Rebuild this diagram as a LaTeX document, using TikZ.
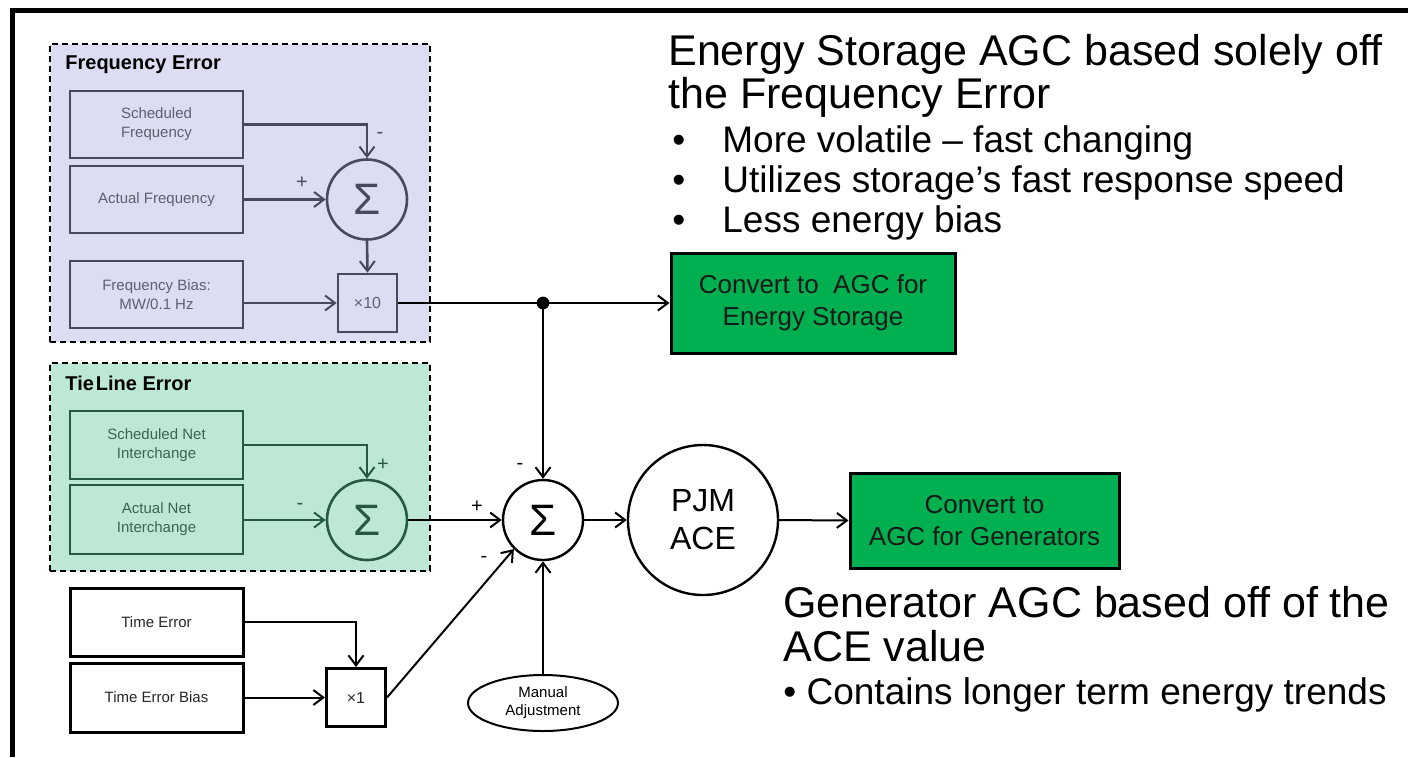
\documentclass[tikz,border=0pt]{standalone}
\usepackage{fontspec}
\setmainfont{Liberation Sans}
\usetikzlibrary{arrows.meta,shapes.geometric,calc}
\definecolor{lav}{RGB}{220,220,242}
\definecolor{mint}{RGB}{190,232,214}
\definecolor{fedge}{RGB}{72,74,92}
\definecolor{ftext}{RGB}{95,95,110}
\definecolor{tedge}{RGB}{38,88,66}
\definecolor{ttext}{RGB}{60,100,82}
\definecolor{agc}{RGB}{0,176,80}
\tikzset{
  grp/.style={draw=black, dash pattern=on 3pt off 2pt, line width=0.9pt, inner sep=0pt},
  grptitle/.style={anchor=west, inner sep=0pt, font=\fontsize{10}{12}\selectfont\bfseries},
  inbox/.style={draw, line width=1.3pt, minimum width=86.5pt, align=center, inner sep=1pt, font=\fontsize{7.5}{9.5}\selectfont},
  febox/.style={inbox, draw=fedge, text=ftext, fill=lav},
  tiebox/.style={inbox, draw=tedge, text=ttext, fill=mint},
  timebox/.style={inbox, draw=black, text=black!85, fill=white, line width=1.5pt},
  sumf/.style={circle, draw=fedge, fill=lav, line width=1.3pt, minimum size=40pt, inner sep=0pt, text=fedge, font=\fontsize{22}{22}\selectfont},
  sumt/.style={sumf, draw=tedge, fill=mint, text=tedge},
  summ/.style={sumf, draw=black, fill=white, text=black, line width=1.2pt},
  gain/.style={draw, line width=1.3pt, minimum width=29.5pt, minimum height=29pt, inner sep=0pt, font=\fontsize{8}{9}\selectfont},
  agcbox/.style={draw=black, fill=agc, line width=1.5pt, align=center, text=black!90, font=\fontsize{13}{16}\selectfont},
  arr/.style={line width=1pt, -{Straight Barb[length=5pt,width=7.5pt,line width=1pt]}},
  sign/.style={inner sep=0pt, font=\fontsize{10}{10}\selectfont},
  big/.style={anchor=base west, inner sep=0pt, font=\fontsize{21.5}{24}\selectfont},
  bul/.style={anchor=base west, inner sep=0pt, font=\fontsize{18.5}{22}\selectfont},
}
\begin{document}
\begin{tikzpicture}[x=0.5pt, y=-0.5pt]
\useasboundingbox (0,0) rectangle (1408,757);
\draw[line width=2.5pt, line join=miter] (12.5,757) -- (12.5,10) -- (1408,10);

% Frequency Error group
\node[grp, fill=lav, minimum width=190pt, minimum height=149pt] (fe) at (240,193) {};
\node[grptitle] (fet) at (65,65) {Frequency Error};
\node[febox, minimum height=33.5pt] (sf) at (156.5,124.5) {Scheduled\\Frequency};
\node[febox, minimum height=33.5pt] (af) at (156.5,199.5) {Actual Frequency};
\node[febox, minimum height=33.5pt] (fb) at (156.5,294.5) {Frequency Bias:\\MW/0.1 Hz};
\node[sumf] (s1) at (367,199.5) {Σ};
\node[gain, draw=fedge, text=ftext, fill=lav] (x10) at (367.5,303) {×10};
\draw[arr, draw=fedge, line width=1.3pt] (sf.east) -| (s1.north);
\draw[arr, draw=fedge, line width=1.3pt] (af.east) -- (s1.west);
\draw[arr, draw=fedge, line width=1.3pt] (s1.south) -- (x10.north);
\draw[arr, draw=fedge, line width=1.3pt] (fb.east |- x10.west) -- (x10.west);
\node[sign, text=fedge] (l1) at (380,135) {-};
\node[sign, text=fedge] (l2) at (302,183) {+};

% Tie Line Error group
\node[grp, fill=mint, minimum width=190pt, minimum height=104pt] (tl) at (240,467) {};
\node[grptitle] (tlt) at (65,383) {Tie\kern1pt Line Error};
\node[tiebox, minimum height=34pt] (sni) at (156.5,445) {Scheduled Net\\Interchange};
\node[tiebox, minimum height=34.5pt] (ani) at (156.5,519.5) {Actual Net\\Interchange};
\node[sumt] (s2) at (367,520) {Σ};
\draw[arr, draw=tedge, line width=1.3pt] (sni.east) -| (s2.north);
\draw[arr, draw=tedge, line width=1.3pt] (ani.east |- s2.west) -- (s2.west);
\node[sign, text=tedge] (l3) at (383,465) {+};
\node[sign, text=tedge] (l4) at (300,506) {-};

% Time error
\node[timebox, minimum height=34pt] (te) at (156.5,622) {Time Error};
\node[timebox, minimum height=34.5pt] (teb) at (156.5,697.5) {Time Error Bias};
\node[gain, draw=black, text=black!85, fill=white, line width=1.5pt] (x1) at (356,697.5) {×1};
\draw[arr] (te.east) -| (x1.north);
\draw[arr] (teb.east) -- (x1.west);

% Main sum
\node[summ] (ms) at (543,520) {Σ};
\coordinate (dot) at (543,303);
\node[agcbox, minimum width=142pt, minimum height=50pt] (g1) at (813,303) {Convert to\ \ AGC for\\Energy Storage};
\draw[line width=1pt] (x10.east) -- (dot);
\draw[arr] (dot) -- (g1.west);
\fill (dot) circle (3.2pt);
\draw[arr] (dot) -- (ms.north);
\draw[arr] (s2.east) -- (ms.west);
\draw[arr] (x1.east) -- (ms.south west);
\node[ellipse, draw, line width=1pt, minimum width=75pt, minimum height=28pt, inner sep=0pt, align=center, font=\fontsize{7.5}{9}\selectfont] (ma) at (543,703) {Manual\\Adjustment};
\draw[arr] (ma.north) -- (ms.south);
\node[sign] (l5) at (520,466) {-};
\node[sign] (l6) at (477,507) {+};
\node[sign] (l7) at (484,559) {-};

\node[circle, draw, line width=1.2pt, minimum size=75pt, inner sep=0pt, align=center, font=\fontsize{16}{19}\selectfont] (pjm) at (703,520) {PJM\\ACE};
\draw[arr] (ms.east) -- (pjm.west);
\node[agcbox, minimum width=134.5pt, minimum height=47.5pt] (g2) at (984.5,520.5) {Convert to\\AGC for Generators};
\draw[arr] (pjm.east) -- (g2.west);

% Texts
\node[big] (t1) at (668,65) {Energy Storage AGC based solely off};
\node[big] (t2) at (668,108) {the Frequency Error};
\node[bul] (b1d) at (672,152) {•};
\node[bul] (b1) at (722,152) {More volatile – fast changing};
\node[bul] (b2d) at (672,192) {•};
\node[bul] (b2) at (722,192) {Utilizes storage’s fast response speed};
\node[bul] (b3d) at (672,232) {•};
\node[bul] (b3) at (722,232) {Less energy bias};
\node[big] (t3) at (783,617) {Generator AGC based off of the};
\node[big] (t4) at (783,661) {ACE value};
\node[bul] (b4) at (783,704) {• Contains longer term energy trends};
\end{tikzpicture}
\end{document}
